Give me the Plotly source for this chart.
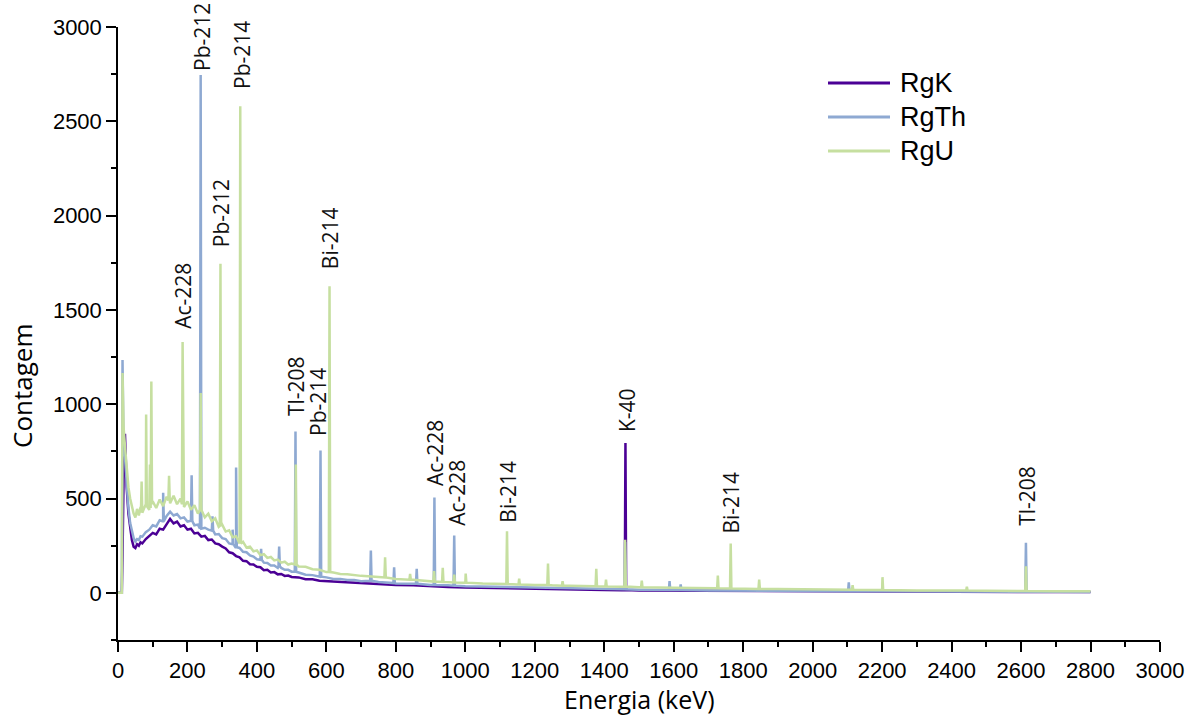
import plotly.graph_objects as go

# ---------------- data ----------------
energy_grid = [0, 11, 13, 16,
               20, 25, 30, 35, 40, 45, 50, 55, 60, 65, 70,
               80, 90, 100, 110, 120, 130, 140, 150, 160, 170,
               180, 190, 200, 210, 220, 230, 240, 250, 260, 270,
               280, 290, 300, 310, 320, 330, 340, 350, 360, 370,
               380, 390, 400, 410, 420, 430, 440, 450, 460, 470,
               480, 490, 500,
               520, 540, 560, 580, 600, 620, 640, 660, 680, 700,
               750, 800, 850, 900, 950, 1000, 1050, 1100, 1150, 1200,
               1250, 1300, 1350, 1400, 1450, 1500,
               1600, 1700, 1800, 1900, 2000, 2100, 2200, 2300, 2400, 2500,
               2600, 2700, 2800]

rgk_counts = [0, 0, 200, 600,
              843, 560, 420, 340, 280, 245, 238, 258, 250, 268, 262,
              285, 300, 318, 310, 340, 335, 365, 392, 368, 378,
              352, 358, 335, 340, 315, 318, 298, 302, 280, 283,
              262, 258, 245, 235, 215, 210, 195, 188, 170, 168,
              152, 150, 138, 136, 120, 122, 108, 110, 98, 100,
              90, 92, 84,
              82, 72, 72, 64, 62, 58, 58, 54, 54, 50,
              48, 42, 40, 34, 31, 28, 26, 24, 22, 20,
              19, 17, 16, 15, 14, 13,
              12, 10, 9, 8, 8, 7, 6, 6, 5, 5,
              4, 4, 4]

rgth_counts = [0, 0, 1235, 760,
               720, 560, 450, 370, 320, 290, 272, 285, 280, 300, 298,
               322, 335, 358, 352, 385, 380, 408, 430, 410, 418,
               395, 400, 378, 382, 358, 362, 340, 345, 335, 330,
               310, 312, 290, 285, 262, 258, 242, 238, 218, 215,
               198, 192, 178, 175, 160, 158, 145, 145, 132, 132,
               122, 122, 112,
               108, 96, 94, 84, 82, 74, 74, 68, 68, 62,
               58, 50, 48, 42, 40, 35, 33, 30, 28, 26,
               24, 22, 21, 20, 19, 17,
               15, 13, 12, 11, 10, 9, 8, 8, 7, 7,
               6, 6, 5]

rgu_counts = [0, 0, 1165, 880,
              780, 660, 560, 500, 450, 420, 400, 445, 410, 455, 425,
              470, 440, 485, 450, 495, 460, 510, 475, 515, 470,
              500, 455, 485, 440, 465, 420, 445, 400, 420, 380,
              395, 350, 362, 325, 332, 295, 300, 262, 270, 240,
              245, 220, 225, 200, 205, 185, 190, 172, 176, 160,
              165, 150, 155,
              140, 138, 125, 122, 110, 108, 100, 98, 92, 90,
              84, 74, 70, 60, 58, 54, 50, 47, 44, 42,
              40, 38, 36, 34, 32, 30,
              27, 24, 22, 20, 18, 16, 15, 13, 12, 11,
              10, 9, 8]

# photopeaks: energy (keV), apex count, local continuum under the peak
rgk_peak_energy = [1461]
rgk_peak_height = [795]
rgk_peak_base = [15]

rgth_peak_energy = [130, 212, 238, 272, 330, 340, 412, 464, 511, 583,
                    728, 795, 860, 911, 968, 1460, 1588, 1620, 2104, 2614]
rgth_peak_height = [531, 623, 2745, 406, 335, 664, 234, 245, 855, 755,
                    224, 136, 128, 505, 304, 270, 62, 45, 56, 265]
rgth_peak_base = [380, 380, 340, 330, 258, 242, 175, 140, 112, 86,
                  64, 52, 48, 42, 38, 19, 15, 15, 9, 6]

rgu_peak_energy = [68, 81, 92, 96, 147, 186, 238, 295, 352, 512,
                   609, 769, 841, 910, 935, 968, 1001, 1120, 1155, 1238,
                   1280, 1377, 1405, 1460, 1508, 1727, 1764, 1846, 2115, 2201,
                   2444, 2614]
rgu_peak_height = [590, 945, 680, 1120, 620, 1330, 1060, 1745, 2580, 680,
                   1625, 189, 100, 115, 133, 97, 102, 327, 75, 155,
                   62, 128, 70, 282, 65, 92, 261, 70, 40, 83,
                   33, 141]
rgu_peak_base = [425, 460, 450, 470, 490, 470, 440, 355, 262, 150,
                 110, 82, 70, 60, 58, 55, 54, 47, 44, 42,
                 38, 35, 34, 33, 30, 24, 23, 21, 16, 15,
                 12, 10]

series_names = ["RgK", "RgTh", "RgU"]
series_colors = ["#4B0095", "#8EA9D2", "#C6DFA0"]

peak_labels = ["Ac-228", "Pb-212", "Pb-212", "Pb-214", "Bi-214", "Tl-208", "Pb-214",
               "Ac-228", "Ac-228", "Bi-214", "K-40", "Bi-214", "Tl-208"]
peak_label_energy = [187, 242, 297, 357, 611, 513, 576, 913, 976, 1123, 1466, 1765, 2617]
peak_label_count = [1394, 2762, 1828, 2666, 1712, 933, 827, 562, 350, 367, 848, 309, 350]

x_ticks = list(range(0, 3001, 200))
y_ticks = list(range(0, 3001, 500))


def build(counts, pe, ph, pb, half_width=2.0):
    pts = list(zip(energy_grid, counts))
    for e, h, b in zip(pe, ph, pb):
        pts += [(e - half_width, b), (e, h), (e + half_width, b)]
    pts.sort(key=lambda p: p[0])
    return [p[0] for p in pts], [p[1] for p in pts]


series = [
    build(rgk_counts, rgk_peak_energy, rgk_peak_height, rgk_peak_base),
    build(rgth_counts, rgth_peak_energy, rgth_peak_height, rgth_peak_base),
    build(rgu_counts, rgu_peak_energy, rgu_peak_height, rgu_peak_base),
]

fig = go.Figure()
for (xs, ys), name, color in zip(series, series_names, series_colors):
    fig.add_trace(go.Scatter(x=xs, y=ys, mode="lines", name=name,
                             line=dict(color=color, width=2.5),
                             showlegend=False))

label_font = dict(family="Open Sans", size=21, color="#111111")
for txt, e, c in zip(peak_labels, peak_label_energy, peak_label_count):
    fig.add_annotation(x=e, y=c, xref="x", yref="y", text=txt, showarrow=False,
                       textangle=-90, xanchor="center", yanchor="bottom",
                       font=label_font, borderpad=0)

W, H = 1187, 716
PL, PR, PT, PB = 118, 1160, 27, 640


def px2paper_x(px):
    return (px - PL) / (PR - PL)


def px2paper_y(py):
    return (PB - py) / (PB - PT)


legend_rows_y = [83, 117, 151]
for name, color, py in zip(series_names, series_colors, legend_rows_y):
    fig.add_shape(type="line", xref="paper", yref="paper",
                  x0=px2paper_x(828), x1=px2paper_x(890),
                  y0=px2paper_y(py), y1=px2paper_y(py),
                  line=dict(color=color, width=3))
    fig.add_annotation(x=px2paper_x(898), y=px2paper_y(py), xref="paper", yref="paper",
                       text=name, showarrow=False, xanchor="left", yanchor="middle",
                       font=dict(family="Liberation Sans, Arial", size=27, color="#000000"))

# y-axis title (placed below centre, as in the reference)
fig.add_annotation(x=px2paper_x(22), y=px2paper_y(386), xref="paper", yref="paper",
                   text="Contagem", showarrow=False, textangle=-90,
                   xanchor="center", yanchor="middle",
                   font=dict(family="Open Sans", size=26, color="#000000"))

# x-axis title
fig.add_annotation(x=px2paper_x(639), y=px2paper_y(699), xref="paper", yref="paper",
                   text="Energia (keV)", showarrow=False,
                   xanchor="center", yanchor="middle",
                   font=dict(family="Open Sans", size=25, color="#000000"))

axis_common = dict(showline=True, linecolor="#000000", linewidth=1.5,
                   ticks="outside", ticklen=10, tickwidth=1.5, tickcolor="#000000",
                   showgrid=False, zeroline=False, mirror=False,
                   tickfont=dict(family="Liberation Sans, Arial", size=22, color="#000000"))

fig.update_xaxes(range=[0, 3000], tickvals=x_ticks, ticktext=[str(v) for v in x_ticks],
                 minor=dict(dtick=100, tick0=0, ticks="outside", ticklen=5,
                            tickwidth=1.5, tickcolor="#000000"),
                 **axis_common)
fig.update_yaxes(range=[-250, 3000], tickvals=y_ticks, ticktext=[str(v) for v in y_ticks],
                 minor=dict(dtick=250, tick0=0, ticks="outside", ticklen=5,
                            tickwidth=1.5, tickcolor="#000000"),
                 **axis_common)

fig.update_layout(width=W, height=H,
                  margin=dict(l=PL, r=W - PR, t=PT, b=H - PB, autoexpand=False),
                  paper_bgcolor="#ffffff", plot_bgcolor="#ffffff",
                  showlegend=False)

fig.write_html("out.html", config={"displayModeBar": False},
               post_script="document.body.style.margin='0px';document.body.style.overflow='hidden';")
